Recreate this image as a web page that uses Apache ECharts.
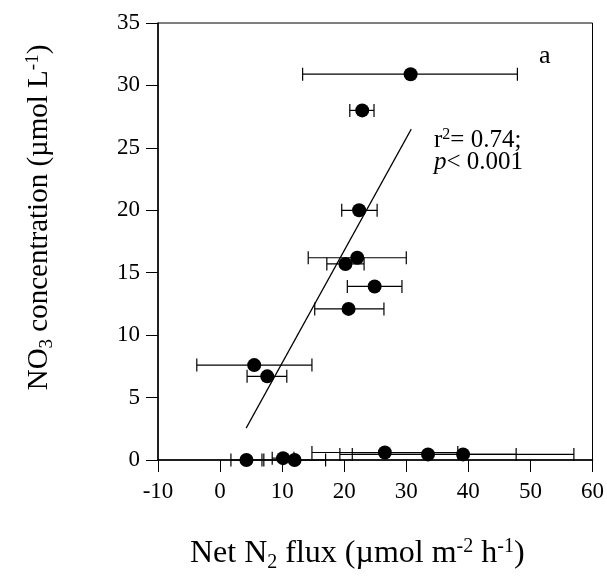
<!DOCTYPE html>
<html>
<head>
<meta charset="utf-8">
<script src="https://cdn.jsdelivr.net/npm/echarts@6/dist/echarts.min.js"></script>
<style>
  html, body { margin: 0; padding: 0; background: #fff; }
  #chart { width: 607px; height: 578px; }
</style>
</head>
<body>
<div id="chart"></div>
<script>
// net N2 flux (x), NO3 concentration (y), horizontal error bar ends
const fluxX   = [30.7, 22.9, 22.4, 22.1, 20.2, 24.9, 20.7, 5.5, 7.6, 4.25, 10.15, 12.0, 26.55, 33.5, 39.15]
const no3Y    = [30.9, 28.0, 20.0, 16.2, 15.7, 13.9, 12.1, 7.6, 6.7, 0, 0.15, 0, 0.6, 0.45, 0.45]
const errLow  = [13.3, 20.9, 19.6, 14.2, 17.2, 20.5, 15.25, -3.75, 4.35, 1.75, 8.4, 7.05, 14.8, 19.3, 21.3]
const errHigh = [47.9, 24.8, 25.3, 30.0, 23.2, 29.3, 26.4, 14.8, 10.75, 6.75, 11.9, 17.0, 38.3, 47.7, 57.0]

// regression line ends
const fitX = [4.2, 30.8]
const fitY = [2.55, 26.5]

const FONT = 'Liberation Serif'

const chart = echarts.init(document.getElementById('chart'))

const points = fluxX.map((x, i) => [x, no3Y[i]])
const bars = fluxX.map((x, i) => [errLow[i], errHigh[i], no3Y[i]])

// base text + sub/superscript styles for rich axis names
const richName = (size, small) => ({
  b: { fontFamily: FONT, fontSize: size, color: '#000', lineHeight: size + 4 },
  sub: { fontFamily: FONT, fontSize: small, color: '#000', lineHeight: size + 4, padding: [Math.round(size * 0.55), 0, 0, 0] },
  sup: { fontFamily: FONT, fontSize: small, color: '#000', lineHeight: size + 4, padding: [0, 0, Math.round(size * 0.45), 0] }
})

const option = {
  animation: false,
  grid: {
    left: 158, right: 13, top: 23, bottom: 118,
    show: true, borderColor: '#000', borderWidth: 1
  },
  xAxis: {
    type: 'value',
    min: -10, max: 60, interval: 10,
    name: '{b|Net N}{sub|2}{b| flux (\u00b5mol m}{sup|-2}{b| h}{sup|-1}{b|)}',
    nameLocation: 'middle',
    nameGap: 76,
    nameTextStyle: { rich: richName(32, 20), padding: [0, 36, 0, 0] },
    axisLine: { onZero: false, lineStyle: { color: '#000', width: 1.5 } },
    axisTick: { inside: false, length: 12, lineStyle: { color: '#000', width: 1 } },
    axisLabel: { fontFamily: FONT, fontSize: 23, color: '#000', margin: 20 },
    splitLine: { show: false }
  },
  yAxis: {
    type: 'value',
    min: 0, max: 35, interval: 5,
    name: '{b|NO}{sub|3}{b| concentration (\u00b5mol L}{sup|-1}{b|)}',
    nameLocation: 'middle',
    nameGap: 102,
    nameTextStyle: { rich: richName(29, 19), padding: [0, 0, 0, 48] },
    axisLine: { onZero: false, lineStyle: { color: '#000', width: 1.5 } },
    axisTick: { inside: false, length: 12, lineStyle: { color: '#000', width: 1 } },
    axisLabel: { fontFamily: FONT, fontSize: 23, color: '#000', margin: 18 },
    splitLine: { show: false }
  },
  series: [
    {
      type: 'custom',
      name: 'error',
      z: 1,
      renderItem: (params, api) => {
        const y = api.value(2)
        const lo = api.coord([api.value(0), y])
        const hi = api.coord([api.value(1), y])
        const cap = 6.5
        const style = { stroke: '#000', lineWidth: 1.2 }
        return {
          type: 'group',
          children: [
            { type: 'line', shape: { x1: lo[0], y1: lo[1], x2: hi[0], y2: hi[1] }, style },
            { type: 'line', shape: { x1: lo[0], y1: lo[1] - cap, x2: lo[0], y2: lo[1] + cap }, style },
            { type: 'line', shape: { x1: hi[0], y1: hi[1] - cap, x2: hi[0], y2: hi[1] + cap }, style }
          ]
        }
      },
      encode: { x: [0, 1], y: 2 },
      data: bars,
      clip: false
    },
    {
      type: 'line',
      name: 'fit',
      z: 2,
      data: fitX.map((x, i) => [x, fitY[i]]),
      symbol: 'none',
      lineStyle: { color: '#000', width: 1.2 }
    },
    {
      type: 'scatter',
      name: 'NO3',
      z: 3,
      data: points,
      symbol: 'circle',
      symbolSize: 14,
      itemStyle: { color: '#000', opacity: 1 }
    }
  ],
  graphic: [
    {
      type: 'text', left: 539, top: 43,
      style: { text: 'a', fontFamily: FONT, fontSize: 26, fill: '#000' }
    },
    {
      type: 'text', left: 434, top: 127,
      style: {
        text: '{b|r}{sup|2}{b|= 0.74;}\n{i|p}{b|< 0.001}',
        rich: {
          b: { fontFamily: FONT, fontSize: 25, color: '#000', lineHeight: 22 },
          i: { fontFamily: FONT, fontSize: 25, fontStyle: 'italic', color: '#000', lineHeight: 22 },
          sup: { fontFamily: FONT, fontSize: 16, color: '#000', lineHeight: 22, padding: [0, 0, 10, 0] }
        }
      }
    }
  ]
}

chart.setOption(option)
</script>
</body>
</html>
